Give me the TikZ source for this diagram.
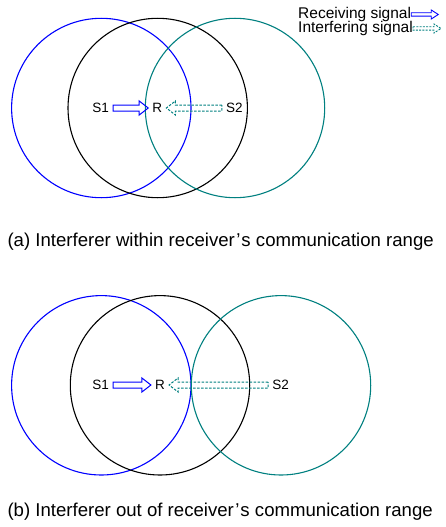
\documentclass[tikz,border=0pt]{standalone}
\usepackage{fontspec}
\setmainfont{Liberation Sans}
\usetikzlibrary{calc}
\definecolor{rangeblue}{RGB}{0,0,255}
\definecolor{rangeteal}{RGB}{0,128,128}
\tikzset{
  hollow/.style n args={3}{to path={
    ($(\tikztostart)+(0,#1)$) -- ($(\tikztotarget)+(#3,#1)$) -- ($(\tikztotarget)+(#3,#2)$)
    -- (\tikztotarget) -- ($(\tikztotarget)+(#3,-#2)$) -- ($(\tikztotarget)+(#3,-#1)$)
    -- ($(\tikztostart)+(0,-#1)$) -- cycle}},
  range/.style={circle, draw=#1, line width=1.1pt, minimum size=179.4pt, inner sep=0pt},
  lab/.style={font=\fontsize{13.5}{16}\selectfont, inner xsep=4pt, inner ysep=0pt},
  captiontext/.style={font=\fontsize{18.6}{22}\selectfont, inner sep=0pt, anchor=base west},
  legtext/.style={font=\fontsize{15.5}{18}\selectfont, inner sep=0pt, anchor=base west},
  recv/.style={draw=rangeblue, line width=1pt, line join=miter, hollow={3}{7}{-9}},
  intf/.style={draw=rangeteal, line width=1pt, dash pattern=on 2.5pt off 1.5pt, hollow={3}{7}{9}},
  recvs/.style={draw=rangeblue, line width=0.9pt, hollow={1.7}{4.5}{-7}},
  intfs/.style={draw=rangeteal, line width=0.9pt, dash pattern=on 2pt off 1.3pt, hollow={1.7}{4.5}{-7}},
}
\begin{document}
\begin{tikzpicture}[x=1pt,y=1pt]
\useasboundingbox (0,0) rectangle (445,-527);
\fill[white] (0,0) rectangle (445,-527);
% (a)
\node[range=rangeblue] (ablue) at (101.3,-108) {};
\node[range=black] (ablack) at (157.7,-108) {};
\node[range=rangeteal] (ateal) at (235,-108) {};
\node[lab] (as1) at (100.7,-108) {S1};
\node[lab] (ar) at (157.3,-108) {R};
\node[lab] (as2) at (234.3,-108) {S2};
\draw[recv] (as1.east) to (ar.west);
\draw[intf] (as2.west) to (ar.east);
\node[captiontext] (capa) at (7.3,-246) {(a) Interferer within receiver\kern1.5pt’\kern1pt s communication range};
% legend
\node[legtext] (lrecv) at (298,-18.5) {Receiving signal};
\node[legtext] (lintf) at (298,-32.5) {Interfering signal};
\coordinate (lrecvend) at ($(lrecv.east)+(27,0)$);
\coordinate (lintfend) at ($(lintf.east)+(28,0)$);
\draw[recvs] (lrecv.east) to (lrecvend);
\draw[intfs] (lintf.east) to (lintfend);
% (b)
\node[range=rangeblue] (bblue) at (101.3,-385.3) {};
\node[range=black] (bblack) at (160,-385.3) {};
\node[range=rangeteal] (bteal) at (281,-385.3) {};
\node[lab] (bs1) at (100.7,-385) {S1};
\node[lab] (br) at (160,-385) {R};
\node[lab] (bs2) at (280.7,-385) {S2};
\draw[recv] (bs1.east) to (br.west);
\draw[intf] (bs2.west) to (br.east);
\node[captiontext] (capb) at (7.3,-516.5) {(b) Interferer out of receiver\kern1.5pt’\kern1pt s communication range};
\end{tikzpicture}
\end{document}
